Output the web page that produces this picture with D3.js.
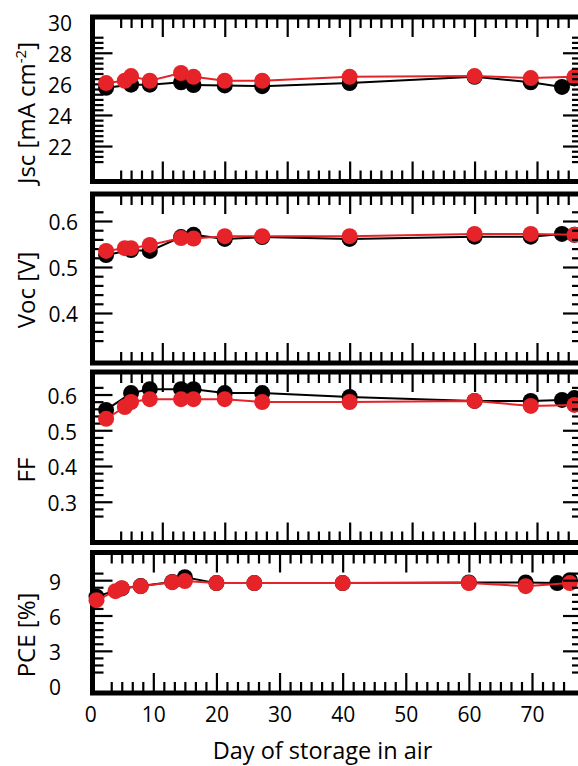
<!DOCTYPE html>
<html><head><meta charset="utf-8">
<script src="https://cdn.jsdelivr.net/npm/d3@7"></script>
<style>body{margin:0;background:#fff} svg{display:block} text{font-family:'Open Sans',sans-serif}</style>
</head><body><svg id="c" width="578" height="766"></svg>
<script>
// ---- data ----
const blackDays=[1,5,8,13,15,20,26,40,60,69,74,76];
const redDays=[1,4,5,8,13,15,20,26,40,60,69,76];
const jscBlack=[25.75,25.95,25.95,26.1,25.92,25.9,25.85,26.05,26.45,26.1,25.8,26.35];
const jscRed=[26.05,26.2,26.5,26.2,26.7,26.45,26.2,26.2,26.45,26.5,26.37,26.45];
const vocBlack=[0.526,0.537,0.535,0.565,0.570,0.561,0.565,0.561,0.566,0.566,0.572,0.570];
const vocRed=[0.535,0.541,0.541,0.548,0.563,0.562,0.567,0.567,0.567,0.572,0.572,0.570];
const ffBlack=[0.557,0.604,0.615,0.615,0.615,0.604,0.604,0.593,0.582,0.582,0.585,0.590];
const ffRed=[0.532,0.565,0.579,0.587,0.587,0.587,0.587,0.579,0.579,0.582,0.568,0.571];
const pceBlack=[7.6,8.3,8.5,8.85,9.25,8.75,8.75,8.75,8.8,8.8,8.75,9.0];
const pceRed=[7.3,8.07,8.32,8.49,8.83,8.92,8.75,8.75,8.75,8.75,8.49,8.75];
const xLabels=[0,10,20,30,40,50,60,70];
const xMajors=[10,20,30,40,50,60,70];
const jscLabels=[22,24,26,28,30], jscMajors=[22,24,26,28];
const vocLabels=[0.4,0.5,0.6], vocMajors=[0.4,0.5,0.6];
const ffLabels=[0.3,0.4,0.5,0.6], ffMajors=[0.3,0.4,0.5,0.6];
const pceLabels=[0,3,6,9], pceMajors=[3,6,9];

// ---- layout ----
const RED="#e52329";
const L=92.5, R=583;
const svg=d3.select("#c");
const xMinors=d3.range(10/3,75.1,10/6).filter(v=>Math.abs(v/10-Math.round(v/10))>0.01);
function minorsOf(a,b,s,majors){return d3.range(a,b+s/2,s).filter(v=>!majors.some(m=>Math.abs(m-v)<s/4));}

const panels=[
 {top:17,bottom:181.5,dom:[19.72,30.3],labels:jscLabels,majors:jscMajors,minors:minorsOf(21,29,1/3,jscMajors),pad:20.5,fmt:d3.format("d"),
  xr:[99.85,537],titleY:113,title:"jsc",b:jscBlack,r:jscRed},
 {top:194,bottom:363,dom:[0.2913,0.6587],labels:vocLabels,majors:vocMajors,minors:minorsOf(0.34,0.62,0.02,vocMajors),pad:14.5,fmt:d3.format(".1f"),
  xr:[99.85,537],titleY:290,title:"Voc [V]",b:vocBlack,r:vocRed},
 {top:372,bottom:542.5,dom:[0.186,0.663],labels:ffLabels,majors:ffMajors,minors:minorsOf(0.26,0.62,0.02,ffMajors),pad:15.5,fmt:d3.format(".1f"),
  xr:[99.85,537],titleY:470,title:"FF",b:ffBlack,r:ffRed},
 {top:552.5,bottom:693,dom:[-0.58,11.35],labels:pceLabels,majors:pceMajors,minors:minorsOf(1.2,9.6,0.6,pceMajors),pad:31.5,fmt:d3.format("d"),
  xr:[90.2,532],titleY:635,title:"PCE [%]",b:pceBlack,r:pceRed,last:true}
];

const LONG=20, SHORT=11;
function styleAxis(g){g.select(".domain").remove();g.selectAll("line").attr("stroke","#000").attr("stroke-width",2.2);}

panels.forEach(p=>{
  const x=d3.scaleLinear().domain([0,70]).range(p.xr);
  const y=d3.scaleLinear().domain(p.dom).range([p.bottom,p.top]);
  const g=svg.append("g");
  g.append("rect").attr("x",L).attr("y",p.top).attr("width",R-L).attr("height",p.bottom-p.top)
    .attr("fill","none").attr("stroke","#000").attr("stroke-width",5);
  g.append("g").attr("transform",`translate(${L},0)`).call(d3.axisLeft(y).tickValues(p.majors).tickSize(-LONG).tickFormat("")).call(styleAxis);
  g.append("g").attr("transform",`translate(${L},0)`).call(d3.axisLeft(y).tickValues(p.minors).tickSize(-SHORT).tickFormat("")).call(styleAxis);
  const lab=g.append("g").attr("transform",`translate(${L},0)`).call(d3.axisLeft(y).tickValues(p.labels).tickSize(0).tickPadding(p.pad).tickFormat(p.fmt));
  lab.select(".domain").remove();
  lab.selectAll("text").attr("font-size",21).attr("font-family","'Open Sans',sans-serif").attr("fill","#000").attr("dy","0.42em");
  [[d3.axisTop,p.top],[d3.axisBottom,p.bottom]].forEach(([ax,yy])=>{
    g.append("g").attr("transform",`translate(0,${yy})`).call(ax(x).tickValues(xMajors).tickSize(-LONG).tickFormat("")).call(styleAxis);
    g.append("g").attr("transform",`translate(0,${yy})`).call(ax(x).tickValues(xMinors).tickSize(-SHORT).tickFormat("")).call(styleAxis);
  });
  if(p.last){
    const xl=g.append("g").attr("transform",`translate(0,${p.bottom})`).call(d3.axisBottom(x).tickValues(xLabels).tickSize(0).tickPadding(14).tickFormat(d3.format("d")));
    xl.select(".domain").remove();
    xl.selectAll("text").attr("font-size",21).attr("font-family","'Open Sans',sans-serif").attr("fill","#000");
  }
  const t=g.append("text").attr("transform",`translate(35,${p.titleY}) rotate(-90)`).attr("text-anchor","middle")
    .attr("font-size",24).attr("fill","#000");
  if(p.title==="jsc"){
    t.append("tspan").text("Jsc [mA cm");
    t.append("tspan").attr("font-size",15).attr("dy",-9).text("-2");
    t.append("tspan").attr("dy",9).text("]");
  } else t.text(p.title);
  const line=d3.line().x(d=>x(d[0])).y(d=>y(d[1]));
  const bd=blackDays.map((d,i)=>[d,p.b[i]]), rd=redDays.map((d,i)=>[d,p.r[i]]);
  [[bd,"#000"],[rd,RED]].forEach(([data,col])=>{
    g.append("path").datum(data).attr("d",line).attr("fill","none").attr("stroke",col).attr("stroke-width",2);
    g.selectAll(null).data(data).enter().append("circle").attr("cx",d=>x(d[0])).attr("cy",d=>y(d[1])).attr("r",8).attr("fill",col);
  });
  g.append("g").attr("transform",`translate(${R},0)`).call(d3.axisRight(y).tickValues(p.majors).tickSize(-LONG).tickFormat("")).call(styleAxis);
  g.append("g").attr("transform",`translate(${R},0)`).call(d3.axisRight(y).tickValues(p.minors).tickSize(-SHORT).tickFormat("")).call(styleAxis);
});

svg.append("text").attr("x",322.5).attr("y",759).attr("text-anchor","middle").attr("font-size",23.5).attr("fill","#000").text("Day of storage in air");
</script></body></html>
